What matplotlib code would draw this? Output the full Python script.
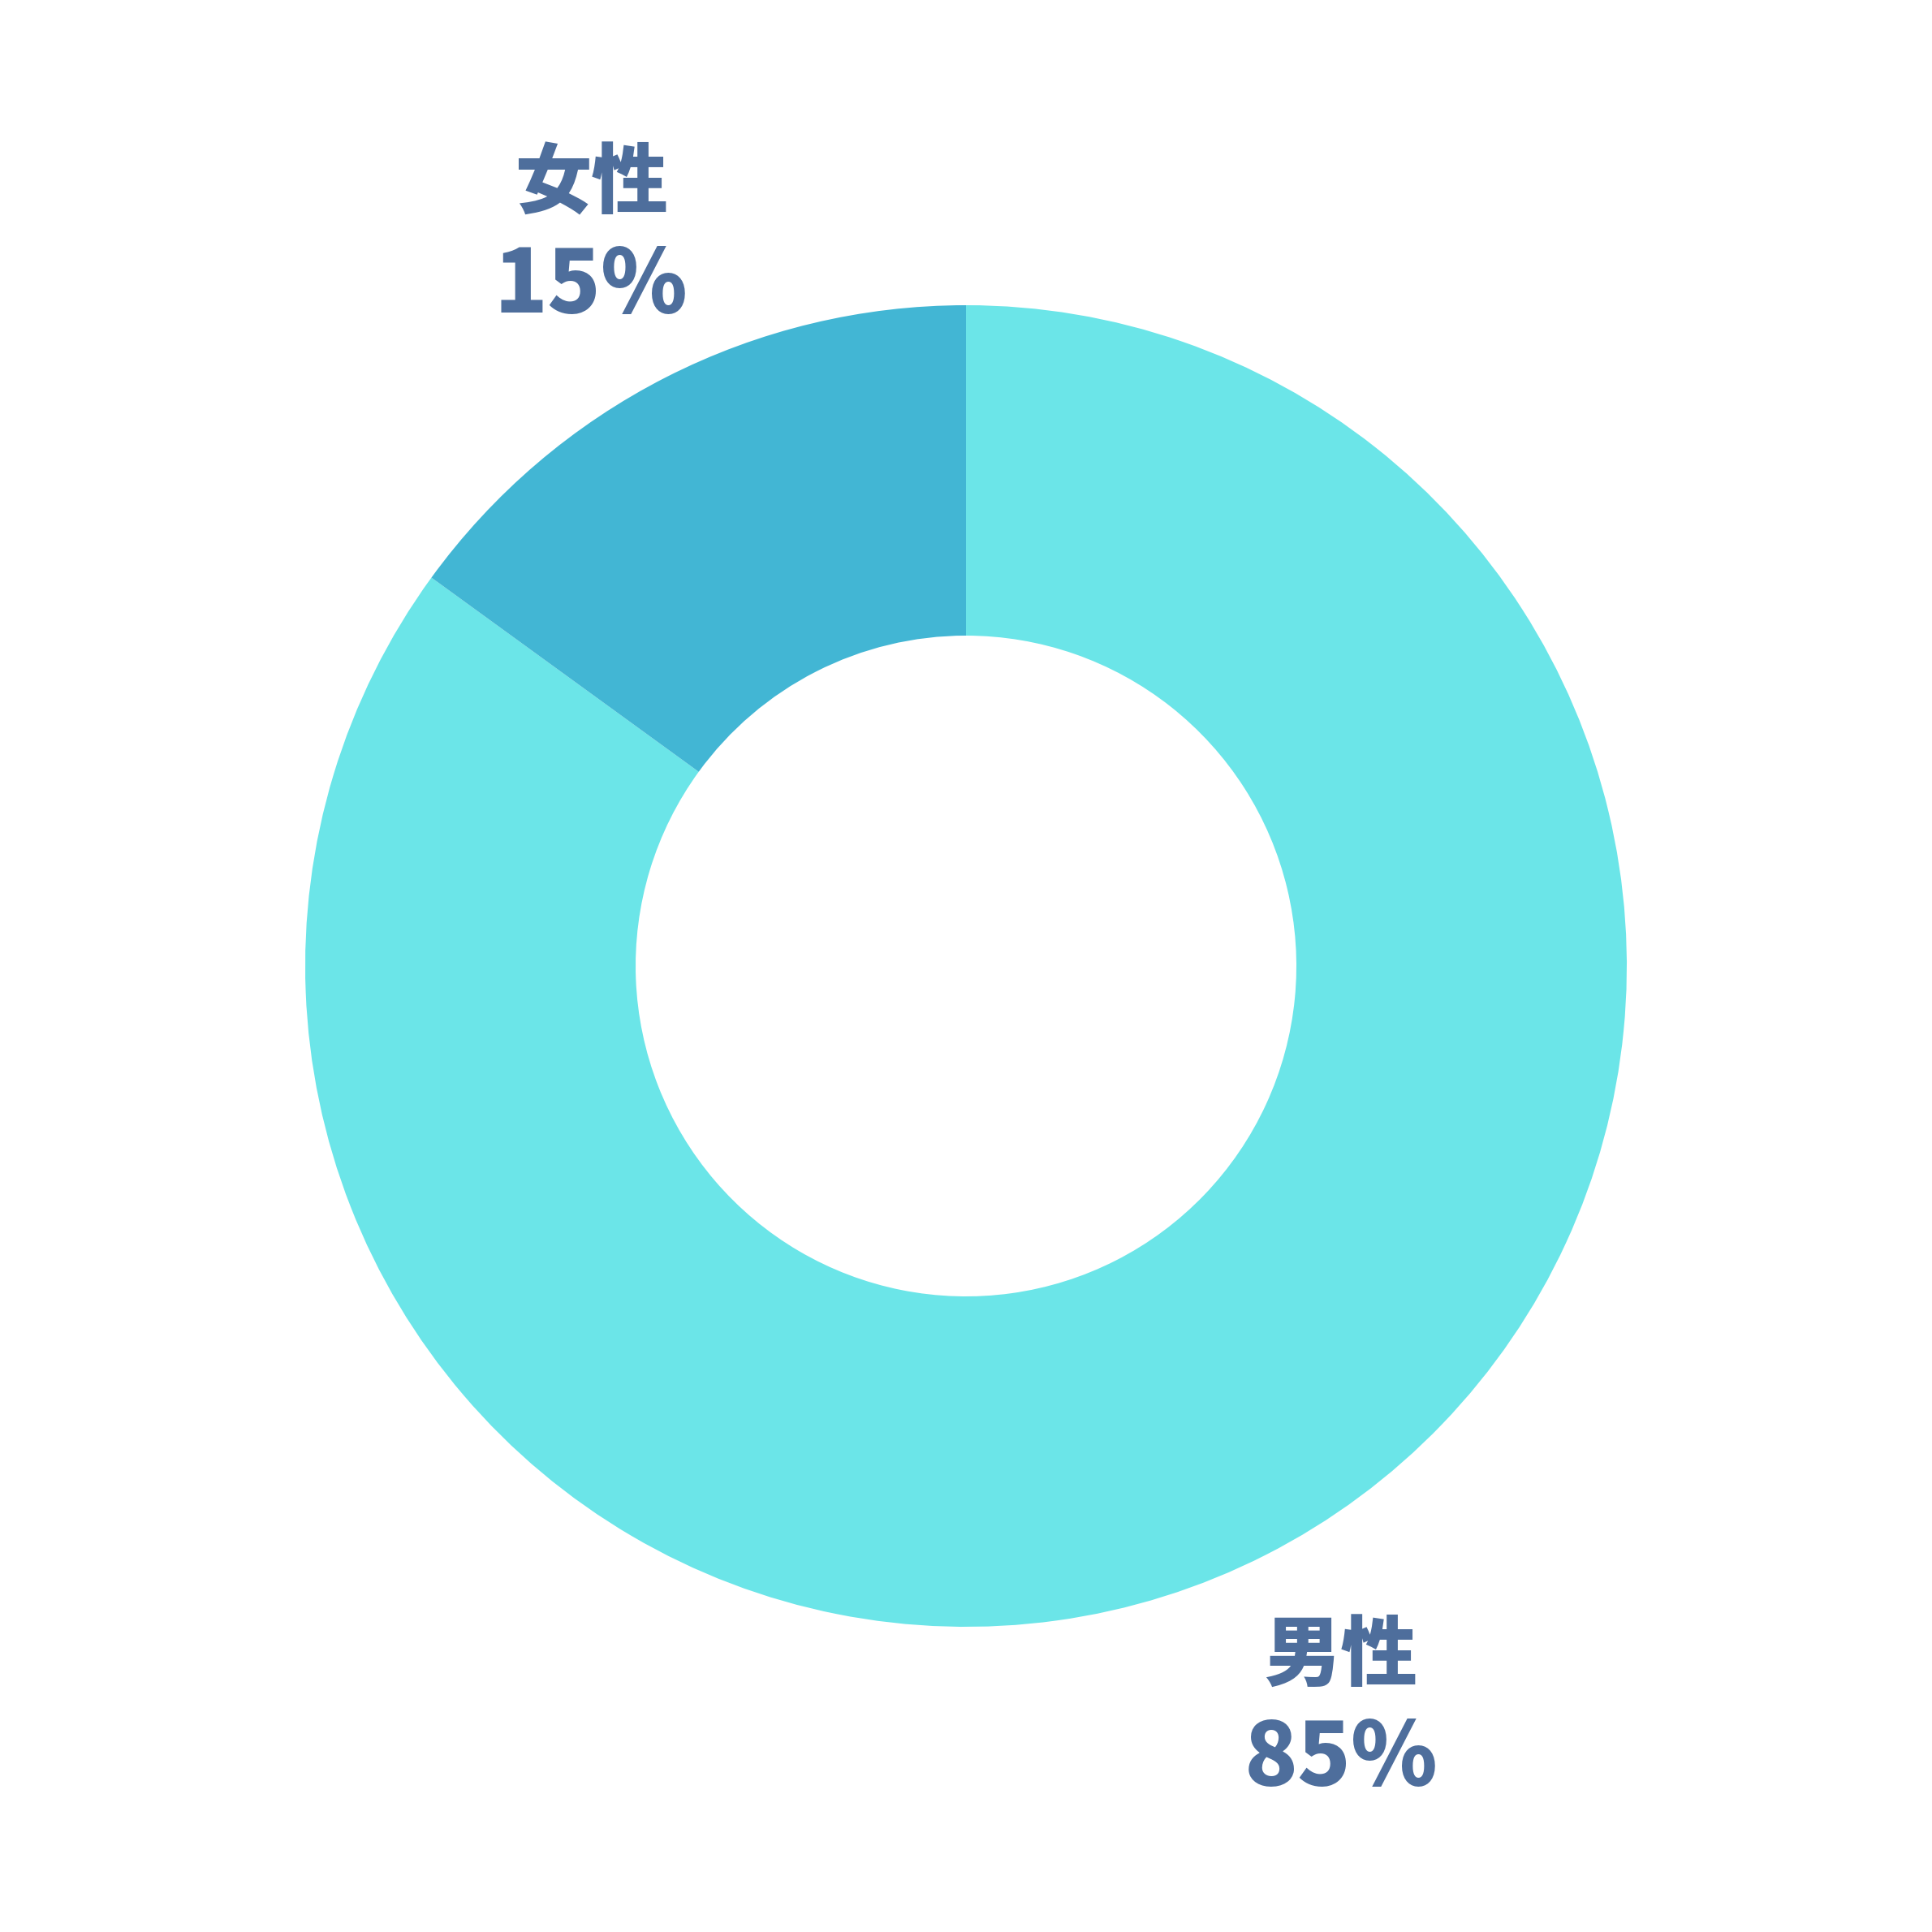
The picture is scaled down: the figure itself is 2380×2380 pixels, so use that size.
import numpy as np
import matplotlib.pyplot as plt

plt.rcParams['font.family'] = ['Noto Sans CJK JP', 'DejaVu Sans']

labels = ['男性', '女性']
values = [85, 15]
colors = ['#6BE5E8', '#42B6D4']
text_color = '#4E6E9C'

fig = plt.figure(figsize=(23.8, 23.8), dpi=100)
ax = fig.add_axes([0, 0, 1, 1])
wedges, _ = ax.pie(values, colors=colors, startangle=90, counterclock=False,
                   radius=1, wedgeprops=dict(width=0.5, linewidth=0))

lim = 1190 / 814
ax.set_xlim(-lim, lim)
ax.set_ylim(-lim, lim)
ax.set_aspect('equal')
ax.axis('off')

# label each wedge outside the ring, along its middle angle
for w, lab, v in zip(wedges, labels, values):
    ang = np.deg2rad((w.theta1 + w.theta2) / 2)
    x, y = 1.25 * np.cos(ang), 1.25 * np.sin(ang)
    ax.text(x, y + 0.068, lab, ha='center', va='center', fontsize=68,
            fontweight='black', color=text_color)
    ax.text(x, y - 0.086, f'{v}%', ha='center', va='center', fontsize=78,
            fontweight='black', color=text_color)

fig.savefig('out.png', dpi=100, facecolor='white')
